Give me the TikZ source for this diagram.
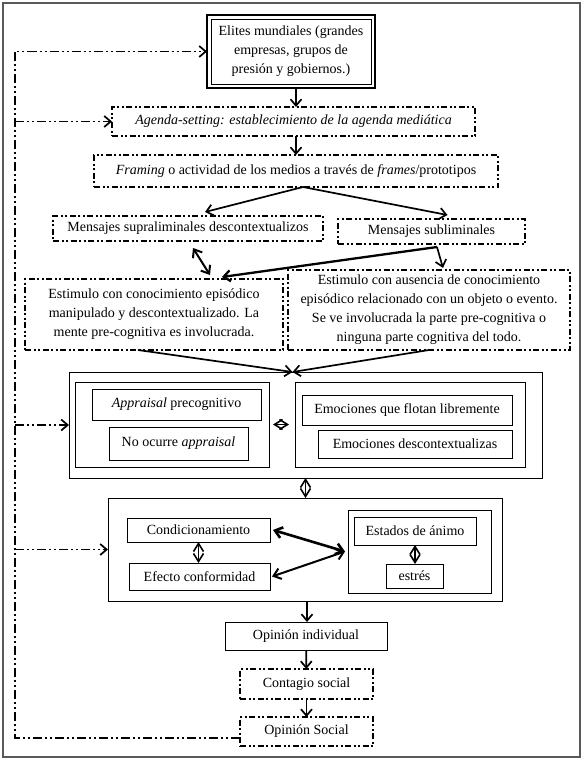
\documentclass[tikz,border=0pt]{standalone}
\usepackage{fontspec}
\setmainfont{Liberation Serif}
\usetikzlibrary{arrows.meta}

\begin{document}
\begin{tikzpicture}[x=1pt,y=-1pt,
    every node/.style={font=\fontsize{14}{19}\selectfont, inner sep=0pt, outer sep=0pt, align=center},
    punta/.tip={Straight Barb[length=6.5pt,width=11pt]},
    linea/.style={draw, line width=0.8pt},
    tratteggio/.style={draw, line width=1.5pt, dash pattern=on 6pt off 2.5pt on 2pt off 2.5pt on 2pt off 2.5pt},
    freccia/.style={line width=1.7pt, -punta},
    doppia/.style={line width=2pt, {Straight Barb[length=7pt,width=11pt]}-{Straight Barb[length=7pt,width=11pt]}},
    rombo/.style={line width=1.6pt, {Straight Barb[length=8pt,width=10pt]}-{Straight Barb[length=8pt,width=10pt]}},
    ritorno/.style={line width=1.7pt, dash pattern=on 9pt off 3pt on 2pt off 3pt on 2pt off 3pt, -punta}]
        \useasboundingbox (0,0) rectangle (584,760); % dimensioni della pagina
        \draw[gray!70!black, line width=1.2pt] (3,3) rectangle (580,757); % cornice esterna

        % blocchi superiori
        \node[draw, line width=2.5pt, minimum width=168pt, minimum height=73pt] (elites) at (291,51.5) {Elites mundiales (grandes\\empresas, grupos de\\presión y gobiernos.)};
        \draw[line width=0.8pt] ([shift={(4,4)}]elites.north west) rectangle ([shift={(-4,-4)}]elites.south east); % bordo doppio
        \node[tratteggio, minimum width=363pt, minimum height=29pt] (agenda) at (293.5,121.5) {\textit{Agenda-setting: establecimiento de la agenda mediática}};
        \node[tratteggio, minimum width=404pt, minimum height=32pt] (framing) at (296,171) {\textit{Framing} o actividad de los medios a través de \textit{frames}/prototipos};
        \node[tratteggio, minimum width=270pt, minimum height=25pt] (supra) at (188,228.5) {Mensajes supraliminales descontextualizos};
        \node[tratteggio, minimum width=187pt, minimum height=25pt] (sub) at (431.5,231.5) {Mensajes subliminales};
        \node[tratteggio, minimum width=258pt, minimum height=71pt] (estL) at (154,314.5) {Estimulo con conocimiento episódico\\manipulado y descontextualizado. La\\mente pre-cognitiva es involucrada.};
        \node[tratteggio, minimum width=282pt, minimum height=80pt] (estR) at (429,310) {Estimulo con ausencia de conocimiento\\episódico relacionado con un objeto o evento.\\Se ve involucrada la parte pre-cognitiva o\\ninguna parte cognitiva del todo.};

        % primo riquadro: appraisal ed emozioni
        \node[linea, minimum width=473pt, minimum height=106pt] (big1) at (305.5,425) {};
        \node[linea, minimum width=194pt, minimum height=85pt] (inL) at (172,424.5) {};
        \node[linea, minimum width=169pt, minimum height=31pt] (appr) at (176.5,404.5) {\textit{Appraisal} precognitivo};
        \node[linea, minimum width=139pt, minimum height=33pt] (noap) at (178.5,443.5) {No ocurre \textit{appraisal}};
        \node[linea, minimum width=230pt, minimum height=85pt] (inR) at (410,424.5) {};
        \node[linea, minimum width=210pt, minimum height=30pt] (flot) at (407,410) {Emociones que flotan libremente};
        \node[linea, minimum width=194pt, minimum height=28pt] (desc) at (415,444) {Emociones descontextualizas};

        % secondo riquadro: condizionamento e stati d'animo
        \node[linea, minimum width=394pt, minimum height=103pt] (big2) at (305,549.5) {};
        \node[linea, minimum width=143pt, minimum height=24pt] (cond) at (198.5,530) {Condicionamiento};
        \node[linea, minimum width=141pt, minimum height=27pt] (efec) at (199.5,576.5) {Efecto conformidad};
        \node[linea, minimum width=143pt, minimum height=83pt] (inR2) at (419.5,551.5) {};
        \node[linea, minimum width=122pt, minimum height=28pt] (animo) at (415,531) {Estados de ánimo};
        \node[linea, minimum width=57pt, minimum height=24pt] (estres) at (414.5,576) {estrés};

        % blocchi inferiori
        \node[linea, minimum width=162pt, minimum height=28pt] (opind) at (306,636) {Opinión individual};
        \node[tratteggio, minimum width=133pt, minimum height=30pt] (contagio) at (306.5,684) {Contagio social};
        \node[tratteggio, minimum width=133pt, minimum height=29pt] (opsoc) at (306.5,731.5) {Opinión Social};

        % frecce principali
        \draw[freccia] ([xshift=5pt]elites.south) -- ([xshift=5pt]elites.south |- agenda.north);
        \draw[freccia] ([xshift=2.5pt]agenda.south) -- ([xshift=2.5pt]agenda.south |- framing.north);
        \coordinate (split) at ([xshift=7pt]framing.south); % punto di divisione
        \draw[freccia] (split) -- ([shift={(17,-4)}]supra.north);
        \draw[freccia] (split) -- ([shift={(16,-4)}]sub.north);
        \draw[doppia] ([shift={(5,7)}]supra.south) -- ([shift={(56,-4)}]estL.north);
        \coordinate (nodo) at ([shift={(5.5,3)}]sub.south);
        \draw[freccia, line width=2.3pt] (nodo) -- ([shift={(68,-2)}]estL.north);
        \draw[freccia] (nodo) -- ([shift={(14,-2)}]estR.north);
        \coordinate (ingresso) at ([xshift=-13pt]big1.north);
        \draw[freccia] ([xshift=-16pt]estL.south) -- (ingresso);
        \draw[freccia] (estR.south) -- (ingresso);
        \draw[rombo] ([xshift=4pt]inL.east) -- ([xshift=-6pt]inR.west);
        \draw[rombo] (big1.south) -- (big1.south |- big2.north);
        \draw[rombo] (cond.south) -- (cond.south |- efec.north);
        \draw[rombo] (animo.south) -- (animo.south |- estres.north);
        \draw[doppia, line width=2.6pt] ([xshift=-3pt]inR2.west) -- ([xshift=3pt]cond.east);
        \draw[doppia] ([xshift=-3pt]inR2.west) -- ([xshift=2pt]efec.east);
        \draw[freccia] ([xshift=2pt]big2.south) -- ([xshift=2pt]big2.south |- opind.north);
        \draw[freccia] (opind) -- (contagio);
        \draw[freccia] (contagio) -- (opsoc);

        % retroazione
        \coordinate (angolo) at (15,738);
        \draw[ritorno] ([shift={(0,6.5)}]opsoc.west) -- (angolo) |- (elites.west);
        \draw[ritorno] (angolo |- agenda.west) -- (agenda.west);
        \draw[ritorno] (angolo |- big1.west) -- (big1.west);
        \draw[ritorno] (angolo |- big2.west) -- (big2.west);
    \end{tikzpicture}
\end{document}
